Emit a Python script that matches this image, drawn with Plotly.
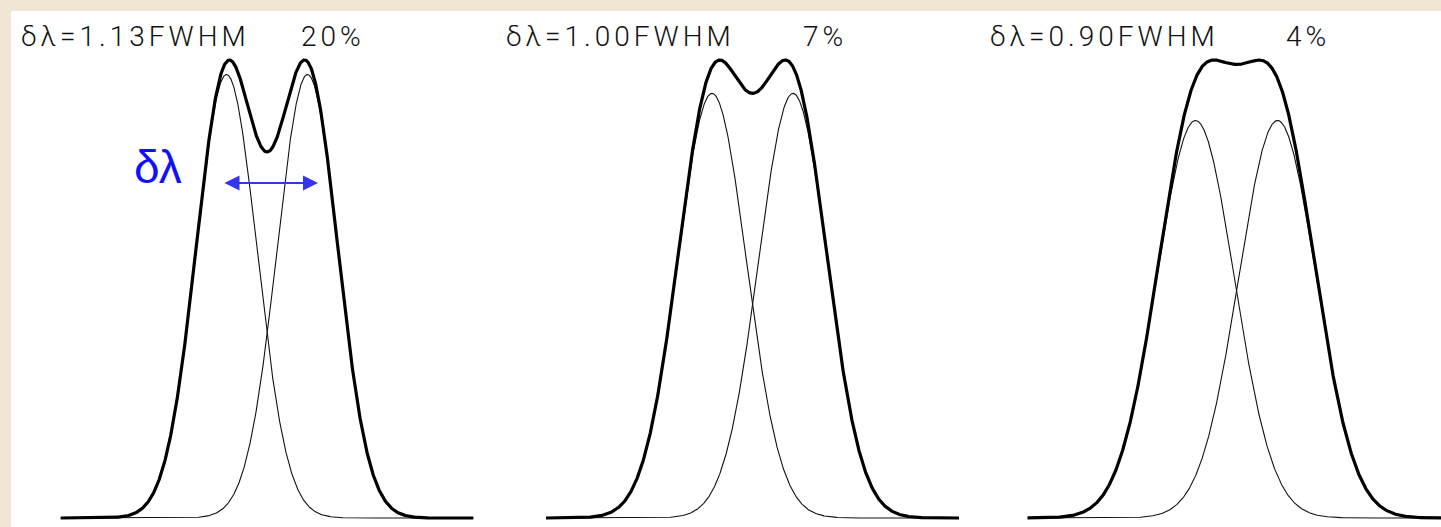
import numpy as np
import plotly.graph_objects as go

# ---- data ----
separation_fwhm = [1.13, 1.00, 0.90]      # line separation in units of FWHM
dip_percent = [20, 7, 4]                  # depth of the central dip
title_labels = [f"δλ={d:.2f}FWHM" for d in separation_fwhm]
dip_labels = [f"{p}%" for p in dip_percent]

W, H = 1441, 527
BG = "#EFE5D2"

# panel geometry (pixels): centre, pixels per separation unit, left/right edges
panels = [
    dict(c=267.0, s=81.0, left=60.5, right=473.5, tx=19, px=299),
    dict(c=752.5, s=81.0, left=546.0, right=959.0, tx=504, px=801),
    dict(c=1236.5, s=82.0, left=1027.4, right=1441.0, tx=988, px=1284),
]

# y mapping: value 0 at pixel 518, value 1 at pixel 60
y_per = (518 - 60)
R = H / y_per
ymin = -(H - 518) / y_per
ymax = ymin + R


def xp(p):
    return p / W


def yp(p):
    return 1 - p / H


fig = go.Figure()
for i, (d, pan) in enumerate(zip(separation_fwhm, panels)):
    sigma = 1.0 / (d * 2.0 * np.sqrt(2 * np.log(2)))   # separation = 1 unit
    xl = (pan["left"] - pan["c"]) / pan["s"]
    xr = (pan["right"] - pan["c"]) / pan["s"]
    x = np.linspace(xl, xr, 1200)
    g1 = np.exp(-((x + 0.5) ** 2) / (2 * sigma ** 2))
    g2 = np.exp(-((x - 0.5) ** 2) / (2 * sigma ** 2))
    tot = g1 + g2
    norm = tot.max()
    ax_id = "x" if i == 0 else f"x{i+1}"
    for g in (g1, g2):
        fig.add_trace(go.Scatter(x=x, y=g / norm, mode="lines",
                                 line=dict(color="#111111", width=1.1),
                                 xaxis=ax_id, yaxis="y", showlegend=False,
                                 hoverinfo="skip"))
    fig.add_trace(go.Scatter(x=x, y=tot / norm, mode="lines",
                             line=dict(color="#000000", width=3.2),
                             xaxis=ax_id, yaxis="y", showlegend=False,
                             hoverinfo="skip"))
    key = "xaxis" if i == 0 else f"xaxis{i+1}"
    fig.layout[key] = dict(domain=[xp(pan["left"]), min(1.0, xp(pan["right"]))],
                           range=[xl, xr], visible=False, anchor="y",
                           fixedrange=True)
    tfont = dict(family="Roboto, Liberation Sans, Arial, sans-serif",
                 size=28, color="#111111", weight=300)
    fig.add_annotation(text=f'<span style="letter-spacing:4px">{title_labels[i]}</span>',
                       xref="paper", yref="paper", x=xp(pan["tx"]), y=yp(37),
                       xanchor="left", yanchor="middle", showarrow=False,
                       font=tfont)
    fig.add_annotation(text=f'<span style="letter-spacing:4px">{dip_labels[i]}</span>',
                       xref="paper", yref="paper", x=xp(pan["px"]), y=yp(37),
                       xanchor="left", yanchor="middle", showarrow=False,
                       font=tfont)

# blue separation label and double arrow in the first panel
fig.add_annotation(text="δλ", xref="paper", yref="paper", x=xp(132), y=yp(167),
                   xanchor="left", yanchor="middle", showarrow=False,
                   font=dict(family="Liberation Sans, Arial, sans-serif",
                             size=46, color="#1010FF"))
fig.add_annotation(text="", xref="paper", yref="paper", x=xp(318), y=yp(183),
                   axref="pixel", ayref="pixel", ax=-95, ay=0,
                   showarrow=True, arrowhead=2, startarrowhead=2,
                   arrowside="end+start", arrowwidth=2, arrowsize=1.5,
                   startarrowsize=1.5, arrowcolor="#3535F0",
                   standoff=0, startstandoff=0)

fig.add_shape(type="rect", xref="paper", yref="paper",
              x0=xp(11), x1=1.0, y0=0.0, y1=yp(11),
              fillcolor="#FFFFFF", line=dict(width=0), layer="below")

fig.update_layout(
    width=W, height=H,
    margin=dict(l=0, r=0, t=0, b=0),
    paper_bgcolor=BG, plot_bgcolor="rgba(0,0,0,0)",
    yaxis=dict(domain=[0, 1], range=[ymin, ymax], visible=False, fixedrange=True),
    showlegend=False,
)

fig.write_html("out.html", config={"displayModeBar": False},
               post_script="document.body.style.margin='0';"
                           "document.body.style.overflow='hidden';"
                           f"document.body.style.background='{BG}';")
